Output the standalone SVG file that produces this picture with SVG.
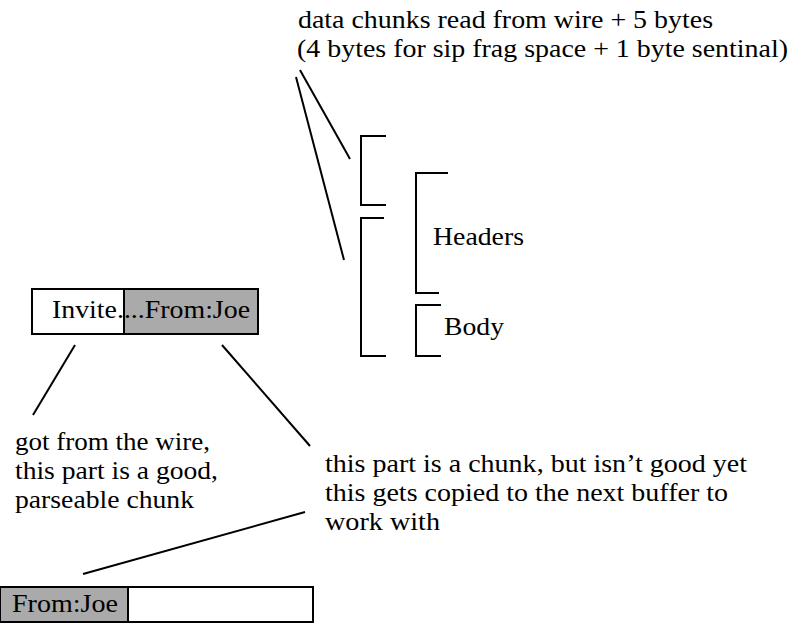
<svg xmlns="http://www.w3.org/2000/svg" width="795" height="634" viewBox="0 0 795 634">
<style>
text{font-family:"Liberation Serif","Times New Roman",serif;font-size:25px;fill:#000}
.ln{stroke:#000;stroke-width:2;fill:none}
.box{stroke:#000;stroke-width:2}
</style>
<rect width="795" height="634" fill="#fff"/>
<g id="top-label">
<text x="298" y="28" textLength="415" lengthAdjust="spacingAndGlyphs">data chunks read from wire + 5 bytes</text>
<text x="297" y="57" textLength="491" lengthAdjust="spacingAndGlyphs">(4 bytes for sip frag space + 1 byte sentinal)</text>
</g>
<g id="brackets">
<path class="ln" d="M386,136 H361 V205 H386"/>
<path class="ln" d="M384,218 H361 V356 H386"/>
<path class="ln" d="M448,173 H416 V293 H439"/>
<path class="ln" d="M441,305 H416 V356 H441"/>
</g>
<g id="headers-label"><text x="433" y="245" textLength="91" lengthAdjust="spacingAndGlyphs">Headers</text></g>
<g id="body-label"><text x="444" y="335" textLength="60" lengthAdjust="spacingAndGlyphs">Body</text></g>
<g id="buffer1">
<rect class="box" x="32" y="289" width="92" height="45" fill="#fff"/>
<rect class="box" x="124" y="289" width="134" height="45" fill="#aaaaaa"/>
<text x="52" y="318" textLength="198" lengthAdjust="spacingAndGlyphs">Invite....From:Joe</text>
</g>
<g id="good-label">
<text x="15" y="450" textLength="195" lengthAdjust="spacingAndGlyphs">got from the wire,</text>
<text x="15" y="479" textLength="203" lengthAdjust="spacingAndGlyphs">this part is a good,</text>
<text x="15" y="508" textLength="179" lengthAdjust="spacingAndGlyphs">parseable chunk</text>
</g>
<g id="chunk-label">
<text x="325" y="472" textLength="422" lengthAdjust="spacingAndGlyphs">this part is a chunk, but isn’t good yet</text>
<text x="325" y="501" textLength="403" lengthAdjust="spacingAndGlyphs">this gets copied to the next buffer to</text>
<text x="325" y="530" textLength="115" lengthAdjust="spacingAndGlyphs">work with</text>
</g>
<g id="buffer2">
<rect class="box" x="0" y="587" width="128" height="35" fill="#aaaaaa"/>
<rect class="box" x="128" y="587" width="185" height="35" fill="#fff"/>
<text x="12" y="612" textLength="106" lengthAdjust="spacingAndGlyphs">From:Joe</text>
</g>
<g id="connectors">
<line class="ln" x1="300" y1="70" x2="350" y2="159"/>
<line class="ln" x1="296" y1="77" x2="344" y2="260"/>
<line class="ln" x1="75" y1="345" x2="33" y2="415"/>
<line class="ln" x1="222" y1="345" x2="310" y2="446"/>
<line class="ln" x1="83" y1="574" x2="305" y2="512"/>
</g>
</svg>
